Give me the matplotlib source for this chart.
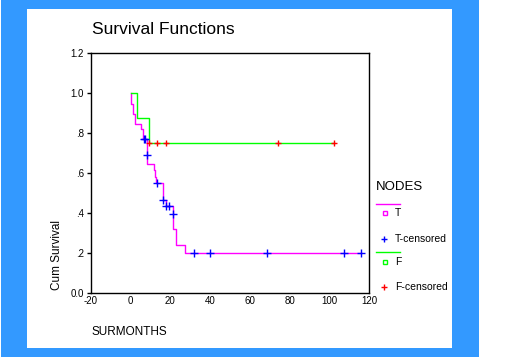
import matplotlib
matplotlib.use("Agg")
import matplotlib.pyplot as plt
from matplotlib.patches import Rectangle
from matplotlib.lines import Line2D

plt.rcParams['font.family'] = ['Liberation Sans', 'DejaVu Sans']

# ---- data ----
t_time = [0.3, 0.3, 1.3, 2.3, 5.3, 6.0, 8.2, 8.25, 11.6, 12.1, 12.7, 16.4, 17.8, 21.4, 21.45, 22.7, 27.5, 116.1]
t_surv = [1.0, 0.945, 0.895, 0.845, 0.82, 0.77, 0.69, 0.645, 0.613, 0.58, 0.55, 0.467, 0.433, 0.397, 0.32, 0.24, 0.2, 0.2]
t_cens_time = [6.7, 7.4, 8.2, 13.4, 16.1, 17.8, 19.4, 21.2, 32.0, 39.9, 68.7, 107.6, 116.1]
t_cens_surv = [0.77, 0.77, 0.69, 0.55, 0.467, 0.433, 0.433, 0.397, 0.2, 0.2, 0.2, 0.2, 0.2]

f_time = [0.3, 3.3, 9.1, 102.4]
f_surv = [1.0, 0.875, 0.75, 0.75]
f_cens_time = [9.1, 13.4, 17.9, 74.2, 102.4]
f_cens_surv = [0.75, 0.75, 0.75, 0.75, 0.75]

x_ticks = [-20, 0, 20, 40, 60, 80, 100, 120]
y_ticks = [0.0, 0.2, 0.4, 0.6, 0.8, 1.0, 1.2]
y_tick_labels = ['0.0', '.2', '.4', '.6', '.8', '1.0', '1.2']

W, H = 512, 360
fig = plt.figure(figsize=(W / 100, H / 100), dpi=100)
fig.patch.set_facecolor('white')

def px(x, y):
    return x / W, 1 - y / H

blue = '#3399FF'
# blue frame and white panel
fig.patches.append(Rectangle(px(1, 357), 478 / W, 357 / H, transform=fig.transFigure,
                             facecolor=blue, edgecolor='none', zorder=-2))
fig.patches.append(Rectangle(px(27, 348), 425 / W, 339 / H, transform=fig.transFigure,
                             facecolor='white', edgecolor='none', zorder=-1))

ax = fig.add_axes([91 / W, 1 - 293 / H, 278 / W, 240 / H])
ax.set_zorder(2)
ax.set_facecolor('white')
ax.set_xlim(-20, 120)
ax.set_ylim(0, 1.2)
for s in ax.spines.values():
    s.set_color('black')
    s.set_linewidth(1.0)

ax.step(t_time, t_surv, where='post', color='#FF00FF', lw=1.0)
ax.step(f_time, f_surv, where='post', color='#00FF00', lw=1.0)
ax.plot(f_cens_time, f_cens_surv, ls='none', marker='+', color='#FF0000', ms=5, mew=1.0)
ax.plot(t_cens_time, t_cens_surv, ls='none', marker='+', color='#0000FF', ms=5.5, mew=1.0)

ax.set_xticks(x_ticks)
ax.set_xticklabels([str(v) for v in x_ticks])
ax.set_yticks(y_ticks)
ax.set_yticklabels(y_tick_labels)
ax.tick_params(axis='both', labelsize=7, length=3, width=1, color='black', pad=2)
ax.tick_params(axis='x', length=0, pad=2)

fig.text(*px(92, 30), 'Survival Functions', fontsize=12.5, ha='left', va='center', color='#000000')
fig.text(*px(57, 255), 'Cum Survival', fontsize=8.5, rotation=90, ha='center', va='center', color='#000000')
fig.text(*px(92, 332), 'SURMONTHS', fontsize=8.5, ha='left', va='center', color='#000000')

# legend
fig.text(*px(376, 187), 'NODES', fontsize=9.5, ha='left', va='center')
fig.lines.append(Line2D([376 / W, 400 / W], [1 - 204 / H] * 2, transform=fig.transFigure,
                        color='#FF00FF', lw=1.0))
fig.lines.append(Line2D([385 / W], [1 - 213.3 / H], transform=fig.transFigure, ls='none',
                        marker='s', ms=3.5, mfc='white', mec='#FF00FF', mew=1))
fig.text(*px(395, 213.5), 'T', fontsize=7.5, ha='left', va='center')
fig.lines.append(Line2D([384 / W], [1 - 239 / H], transform=fig.transFigure, ls='none',
                        marker='+', ms=5, color='#0000FF', mew=1.0))
fig.text(*px(395, 239), 'T-censored', fontsize=7.5, ha='left', va='center')
fig.lines.append(Line2D([376 / W, 400 / W], [1 - 252.3 / H] * 2, transform=fig.transFigure,
                        color='#00FF00', lw=1.0))
fig.lines.append(Line2D([385 / W], [1 - 261.7 / H], transform=fig.transFigure, ls='none',
                        marker='s', ms=3.5, mfc='white', mec='#00FF00', mew=1))
fig.text(*px(395, 262), 'F', fontsize=7.5, ha='left', va='center')
fig.lines.append(Line2D([384 / W], [1 - 286.7 / H], transform=fig.transFigure, ls='none',
                        marker='+', ms=5, color='#FF0000', mew=1.0))
fig.text(*px(395, 287), 'F-censored', fontsize=7.5, ha='left', va='center')

fig.savefig('out.png', dpi=100)
